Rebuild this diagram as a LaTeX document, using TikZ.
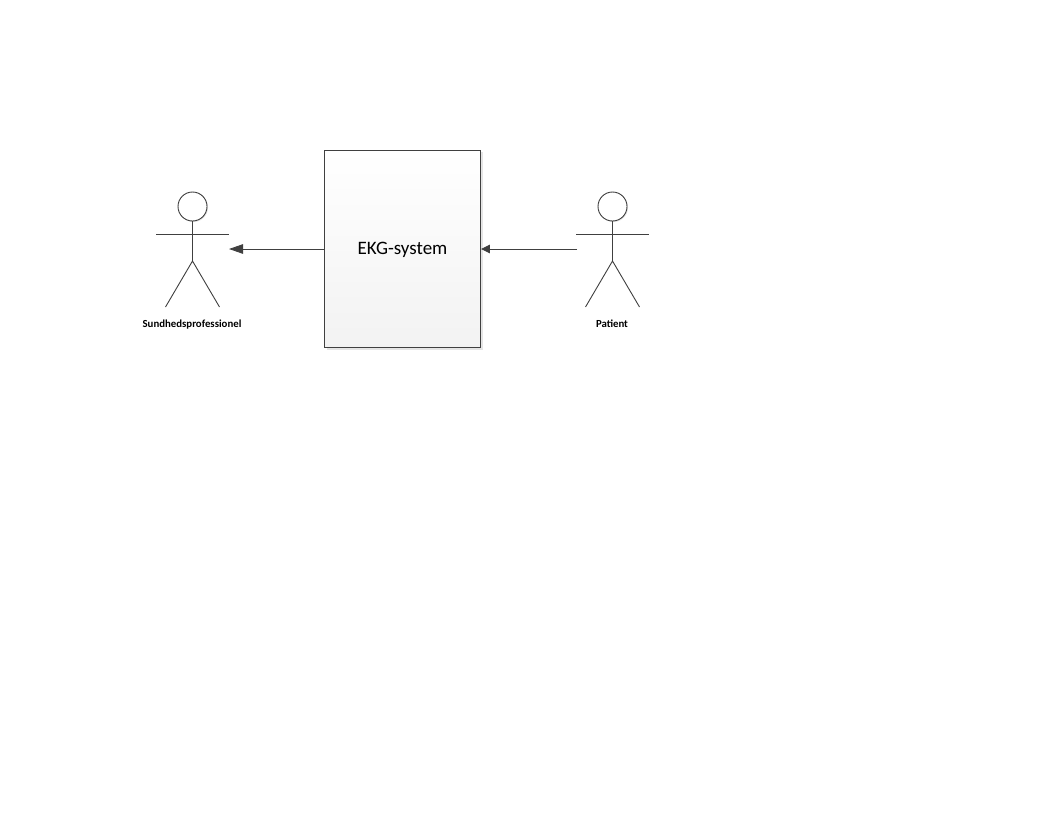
\documentclass[tikz,border=0pt]{standalone}
\usepackage{fontspec}
\setmainfont{Carlito}
\usetikzlibrary{arrows.meta}
\definecolor{ink}{HTML}{404040}
\tikzset{
  sysbox/.style={draw=ink,line width=0.9pt,minimum width=156pt,minimum height=197pt,inner sep=0pt,shade,top color=white,bottom color=black!5,font=\fontsize{19}{21}\selectfont,text=black,text height=15.5pt,text depth=3pt},
  headc/.style={circle,draw=ink,line width=0.9pt,fill=white,minimum size=29pt,inner sep=0pt},
  limb/.style={draw=ink,line width=0.9pt},
  actorlabel/.style={font=\fontsize{10.8}{12}\selectfont\bfseries,text=black,inner sep=0pt,anchor=base},
  flow/.style={draw=ink,line width=0.9pt,-{Triangle[length=14pt,width=9.5pt,fill=ink]}},
  flowshort/.style={draw=ink,line width=0.9pt,-{Triangle[length=9pt,width=8.5pt,fill=ink]}},
  softshadow/.style={fill=black!10,draw=none}
}
\begin{document}
\begin{tikzpicture}[x=1pt,y=-1pt]
\useasboundingbox (0,0) rectangle (1056,816);
\fill[white] (0,0) rectangle (1056,816);
\fill[softshadow] (326.5,152) rectangle (482.5,349.5);
\node[sysbox] (sys) at (402.5,248.7) {EKG-system};
% left actor
\fill[softshadow] (193.5,207.5) circle (14.5pt);
\node[headc] (headL) at (192.5,206.5) {};
\coordinate (armLa) at (156,234);
\coordinate (armLb) at (229,234);
\coordinate (hipL) at (192.5,261);
\coordinate (footLa) at (165.5,307);
\coordinate (footLb) at (219.5,307);
\draw[limb] (headL.south) -- (hipL);
\draw[limb] (armLa) -- (armLb);
\draw[limb] (footLa) -- (hipL) -- (footLb);
\node[actorlabel] (labelL) at (192,327.6) {Sundhedsprofessionel};
% right actor
\fill[softshadow] (613.5,207.5) circle (14.5pt);
\node[headc] (headR) at (612.5,206.5) {};
\coordinate (armRa) at (576,234);
\coordinate (armRb) at (649,234);
\coordinate (hipR) at (612.5,261);
\coordinate (footRa) at (585.5,307);
\coordinate (footRb) at (639.5,307);
\draw[limb] (headR.south) -- (hipR);
\draw[limb] (armRa) -- (armRb);
\draw[limb] (footRa) -- (hipR) -- (footRb);
\node[actorlabel] (labelR) at (612,327.6) {Patient};
% connectors
\coordinate (outEnd) at (229,249);
\coordinate (inStart) at (577,249);
\draw[flow] (sys.west |- outEnd) -- (outEnd);
\draw[flowshort] (inStart) -- (sys.east |- inStart);
\end{tikzpicture}
\end{document}
